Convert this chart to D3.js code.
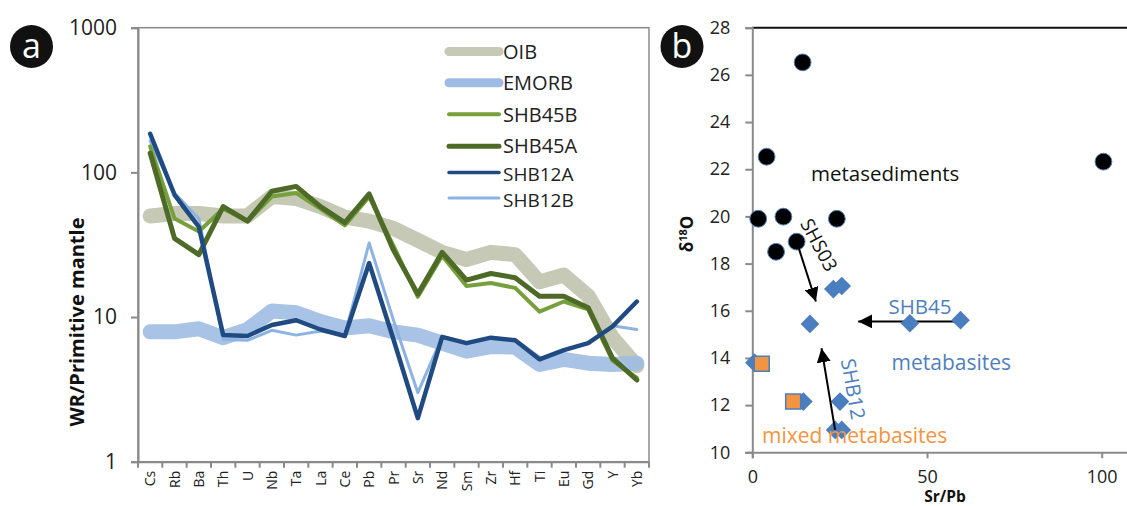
<!DOCTYPE html>
<html>
<head>
<meta charset="utf-8">
<script src="https://cdn.jsdelivr.net/npm/d3@7"></script>
<style>
  html, body { margin: 0; padding: 0; background: #fff; }
  svg { display: block; font-family: "Open Sans", "Noto Sans", sans-serif; }
</style>
</head>
<body>
<svg id="fig" width="1127" height="506"></svg>
<script>
// ---- Panel a: primitive-mantle normalised spider diagram ----
const elements = ["Cs","Rb","Ba","Th","U","Nb","Ta","La","Ce","Pb","Pr","Sr","Nd","Sm","Zr","Hf","Ti","Eu","Gd","Y","Yb"];
const oib    = [50, 52, 52, 50, 50, 68, 66, 58, 49, 46, 41, 34, 28, 25, 28, 27, 17.5, 19.5, 14, 7.2, 4.6];
const emorb  = [7.9, 7.9, 8.3, 7.2, 8.2, 11, 10.7, 9.3, 8.4, 8.7, 7.9, 7.5, 6.6, 5.8, 6.25, 6.2, 4.7, 5.1, 4.8, 4.7, 4.8];
const shb45b = [151, 48, 39, 56, 46, 68, 72, 56, 43, 68, 31, 13.8, 26.5, 16.4, 17.2, 15.9, 10.9, 12.8, 11.3, 5.0, 3.8];
const shb45a = [136, 35, 27, 58, 46, 74, 80, 58, 45, 71, 29, 14.4, 28, 18, 20, 18.7, 13.9, 13.9, 11.6, 5.2, 3.67];
const shb12a = [185, 70, 42, 7.5, 7.4, 8.8, 9.5, 8.2, 7.4, 23.6, 7.0, 2.0, 7.3, 6.6, 7.2, 6.9, 5.1, 5.9, 6.6, 8.6, 12.8];
const shb12b = [165, 72, 48, 7.0, 6.9, 8.1, 7.5, 8.0, 7.5, 32.5, 9.5, 3.0, 7.3, 6.6, 7.2, 6.9, 5.0, 5.9, 6.6, 8.7, 8.2];
const yTicksA = [1, 10, 100, 1000];

const seriesA = [
  { name: "OIB",    values: oib,    color: "#c5c9b5", width: 15,  legendWidth: 9, opacity: 1 },
  { name: "EMORB",  values: emorb,  color: "#9dbbe4", width: 15,  legendWidth: 9, opacity: 0.88 },
  { name: "SHB45B", values: shb45b, color: "#77a03c", width: 4,   legendWidth: 4, opacity: 1 },
  { name: "SHB45A", values: shb45a, color: "#4d6a27", width: 5,   legendWidth: 5, opacity: 1 },
  { name: "SHB12A", values: shb12a, color: "#1f4b82", width: 4.5, legendWidth: 3.5, opacity: 1 },
  { name: "SHB12B", values: shb12b, color: "#8db3e2", width: 3,   legendWidth: 3, opacity: 1 }
];
// draw order: bands first, then samples (dark blue on top)
const drawOrder = ["OIB", "EMORB", "SHB12B", "SHB45B", "SHB45A", "SHB12A"];

// ---- Panel b: d18O vs Sr/Pb ----
const metasedSrPb = [14.4, 4.1, 100.5, 1.7, 8.9, 24.2, 12.7, 6.8];
const metasedD18O = [26.53, 22.53, 22.32, 19.9, 19.99, 19.9, 18.93, 18.5];
const metabasSrPb = [23.2, 25.6, 16.5, 45.1, 59.6, 0.6, 14.6, 25.1, 23.7, 25.6];
const metabasD18O = [16.92, 17.05, 15.44, 15.47, 15.6, 13.8, 12.15, 12.15, 10.95, 10.95];
const mixedSrPb   = [2.7, 11.7];
const mixedD18O   = [13.75, 12.15];
const xTicksB = [0, 50, 100];
const yTicksB = [10, 12, 14, 16, 18, 20, 22, 24, 26, 28];
// arrows: [fromSrPb, fromD18O, toSrPb, toD18O]
const arrowShb45 = [59.6, 15.55, 30.3, 15.55];
const arrowShs03 = [12.7, 18.93, 18.2, 16.39];
const arrowShb12 = [23.7, 10.95, 19.8, 14.41];

const svg = d3.select("#fig");
svg.append("rect").attr("width", 1127).attr("height", 506).attr("fill", "#fff");

const defs = svg.append("defs");
defs.append("marker")
  .attr("id", "head").attr("viewBox", "0 0 10 10")
  .attr("refX", 10).attr("refY", 5)
  .attr("markerWidth", 7).attr("markerHeight", 7)
  .attr("markerUnits", "strokeWidth")
  .attr("orient", "auto")
  .append("path").attr("d", "M0,0 L10,5 L0,10 Z").attr("fill", "#000");

// ================= Panel a =================
const xA = d3.scaleBand().domain(elements).range([138, 649]).padding(0);
const yA = d3.scaleLog().domain([1, 1000]).range([461.7, 27.7]);
const gA = svg.append("g");

// frame
gA.append("rect")
  .attr("x", xA.range()[0]).attr("y", yA.range()[1])
  .attr("width", xA.range()[1] - xA.range()[0])
  .attr("height", yA.range()[0] - yA.range()[1])
  .attr("fill", "none").attr("stroke", "#8a8a8a").attr("stroke-width", 1.5);

// y axis
const yAxisA = d3.axisLeft(yA).tickValues(yTicksA).tickFormat(d3.format("d")).tickSize(7).tickPadding(14);
const gyA = gA.append("g").attr("transform", `translate(${xA.range()[0]},0)`).call(yAxisA);
gyA.select(".domain").attr("stroke", "#8a8a8a").attr("stroke-width", 2);
gyA.selectAll(".tick line").attr("stroke", "#8a8a8a").attr("stroke-width", 2);
gyA.selectAll(".tick text").attr("font-size", 21).attr("fill", "#222").attr("font-family", "Open Sans");

// x axis: labels centred in bands, ticks on band boundaries
const xAxisA = d3.axisBottom(xA).tickSize(0).tickPadding(0);
const gxA = gA.append("g").attr("transform", `translate(0,${yA.range()[0]})`).call(xAxisA);
gxA.select(".domain").attr("stroke", "#8a8a8a").attr("stroke-width", 2);
gxA.selectAll(".tick text")
  .attr("font-size", 14).attr("fill", "#222").attr("font-family", "Open Sans")
  .attr("text-anchor", "end").attr("dy", null)
  .attr("transform", "translate(5,9) rotate(-90)");
const boundaries = elements.map(e => xA(e)).concat([xA.range()[1]]);
gA.append("g").selectAll("line").data(boundaries).join("line")
  .attr("x1", d => d).attr("x2", d => d)
  .attr("y1", yA.range()[0]).attr("y2", yA.range()[0] + 6)
  .attr("stroke", "#8a8a8a").attr("stroke-width", 2);

// series lines
const lineA = d3.line()
  .x((d, i) => xA(elements[i]) + xA.bandwidth() / 2)
  .y(d => yA(d))
  .curve(d3.curveLinear);
const byName = Object.fromEntries(seriesA.map(s => [s.name, s]));
gA.append("g").selectAll("path").data(drawOrder.map(n => byName[n])).join("path")
  .attr("d", s => lineA(s.values))
  .attr("fill", "none")
  .attr("stroke", s => s.color)
  .attr("stroke-width", s => s.width)
  .attr("stroke-opacity", s => s.opacity)
  .attr("stroke-linejoin", "round")
  .attr("stroke-linecap", "round");

// legend
const legendRows = [51.5, 82.7, 114.3, 146.3, 172.5, 198];
const legendTextY = [51.7, 82.7, 114.3, 145.7, 174, 200.5];
const gLeg = gA.append("g");
seriesA.forEach((s, i) => {
  gLeg.append("line")
    .attr("x1", 449).attr("x2", 499)
    .attr("y1", legendRows[i]).attr("y2", legendRows[i])
    .attr("stroke", s.color).attr("stroke-width", s.legendWidth)
    .attr("stroke-linecap", "round");
  gLeg.append("text")
    .attr("x", 503).attr("y", legendTextY[i]).attr("dy", "0.36em")
    .attr("font-size", i >= 4 ? 19 : 20).attr("fill", "#222")
    .text(s.name);
});

// y title
gA.append("text")
  .attr("transform", "translate(84,322) rotate(-90)")
  .attr("text-anchor", "middle")
  .attr("font-size", 20).attr("font-weight", "bold").attr("fill", "#111")
  .text("WR/Primitive mantle");

// panel badge
gA.append("circle").attr("cx", 31.5).attr("cy", 46.5).attr("r", 21.5).attr("fill", "#111");
gA.append("text").attr("x", 31.5).attr("y", 46.5).attr("dy", "0.33em")
  .attr("text-anchor", "middle").attr("font-size", 34).attr("fill", "#fff").text("a");

// ================= Panel b =================
const xB = d3.scaleLinear().domain([0, 120]).range([752.3, 752.3 + 120 * 3.494]);
const yB = d3.scaleLinear().domain([10, 28]).range([452.3, 27.7]);
const gB = svg.append("g");

// top border
gB.append("line")
  .attr("x1", xB(0)).attr("x2", xB(120))
  .attr("y1", yB(28)).attr("y2", yB(28))
  .attr("stroke", "#111").attr("stroke-width", 2);

const yAxisB = d3.axisLeft(yB).tickValues(yTicksB).tickSize(7).tickPadding(15);
const gyB = gB.append("g").attr("transform", `translate(${xB(0)},0)`).call(yAxisB);
gyB.select(".domain").attr("stroke", "#8a8a8a").attr("stroke-width", 2);
gyB.selectAll(".tick line").attr("stroke", "#8a8a8a").attr("stroke-width", 2);
gyB.selectAll(".tick text").attr("font-size", 18).attr("fill", "#222").attr("font-family", "Open Sans");

const xAxisB = d3.axisBottom(xB).tickValues(xTicksB).tickSize(6).tickPadding(12);
const gxB = gB.append("g").attr("transform", `translate(0,${yB(10)})`).call(xAxisB);
gxB.select(".domain").attr("stroke", "#8a8a8a").attr("stroke-width", 2);
gxB.selectAll(".tick line").attr("stroke", "#8a8a8a").attr("stroke-width", 2);
gxB.selectAll(".tick text").attr("font-size", 18).attr("fill", "#222").attr("font-family", "Open Sans");

gB.append("text").attr("x", 945).attr("y", 502)
  .attr("text-anchor", "middle").attr("font-size", 15.5).attr("font-weight", "bold").attr("fill", "#111")
  .text("Sr/Pb");

const yTitle = gB.append("text")
  .attr("transform", "translate(693,234) rotate(-90)")
  .attr("text-anchor", "middle").attr("font-size", 17).attr("font-weight", "bold").attr("fill", "#111");
yTitle.append("tspan").text("δ");
yTitle.append("tspan").attr("font-size", 11).attr("dy", "-0.55em").text("18");
yTitle.append("tspan").attr("dy", "0.35em").text("O");

// arrow drawn beneath the points
function arrow(g, a) {
  g.append("line")
    .attr("x1", xB(a[0])).attr("y1", yB(a[1]))
    .attr("x2", xB(a[2])).attr("y2", yB(a[3]))
    .attr("stroke", "#000").attr("stroke-width", 2)
    .attr("marker-end", "url(#head)");
}
arrow(gB, arrowShb45);

// metasediments
gB.append("g").selectAll("circle").data(metasedSrPb.map((x, i) => [x, metasedD18O[i]])).join("circle")
  .attr("cx", d => xB(d[0])).attr("cy", d => yB(d[1])).attr("r", 8.4)
  .attr("fill", "#000").attr("stroke", "#4f7fb8").attr("stroke-width", 1);

// metabasites (diamonds)
const diamond = d3.symbol().type(d3.symbolSquare).size(175);
gB.append("g").selectAll("path").data(metabasSrPb.map((x, i) => [x, metabasD18O[i]])).join("path")
  .attr("d", diamond)
  .attr("transform", d => `translate(${xB(d[0])},${yB(d[1])}) rotate(45)`)
  .attr("fill", "#4a7ebe");

// mixed metabasites (squares)
const square = d3.symbol().type(d3.symbolSquare).size(225);
gB.append("g").selectAll("path").data(mixedSrPb.map((x, i) => [x, mixedD18O[i]])).join("path")
  .attr("d", square)
  .attr("transform", d => `translate(${xB(d[0])},${yB(d[1])})`)
  .attr("fill", "#f39440").attr("stroke", "#4a7ebe").attr("stroke-width", 1.5);

arrow(gB, arrowShs03);
arrow(gB, arrowShb12);

// annotations
gB.append("text").attr("x", 811).attr("y", 174).attr("dy", "0.35em")
  .attr("font-size", 20.5).attr("fill", "#111").text("metasediments");
gB.append("text").attr("transform", "translate(819,245) rotate(62)")
  .attr("text-anchor", "middle").attr("dy", "0.35em")
  .attr("font-size", 19).attr("fill", "#111").text("SHS03");
gB.append("text").attr("x", 920).attr("y", 306.5).attr("dy", "0.35em")
  .attr("text-anchor", "middle").attr("font-size", 20.5).attr("fill", "#4f7fbf").text("SHB45");
gB.append("text").attr("x", 891.5).attr("y", 363).attr("dy", "0.35em")
  .attr("font-size", 21).attr("fill", "#4f7fbf").text("metabasites");
gB.append("text").attr("transform", "translate(853,389) rotate(80)")
  .attr("text-anchor", "middle").attr("dy", "0.35em")
  .attr("font-size", 20).attr("fill", "#4f7fbf").text("SHB12");
gB.append("text").attr("x", 762).attr("y", 436).attr("dy", "0.35em")
  .attr("font-size", 21).attr("fill", "#f39440").text("mixed metabasites");

// panel badge
gB.append("circle").attr("cx", 682).attr("cy", 46.5).attr("r", 21.5).attr("fill", "#111");
gB.append("text").attr("x", 682).attr("y", 46.5).attr("dy", "0.35em")
  .attr("text-anchor", "middle").attr("font-size", 34).attr("fill", "#fff").text("b");
</script>
</body>
</html>
